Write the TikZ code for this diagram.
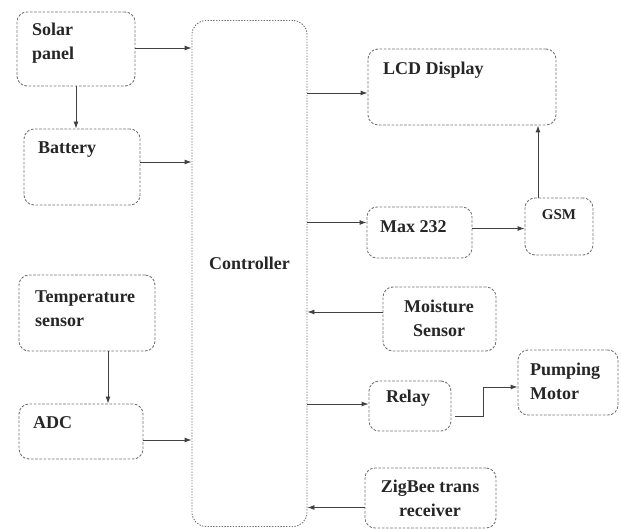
\documentclass[tikz,border=0pt]{standalone}
\usepackage{fontspec}
\setmainfont{LiberationSerif}[Extension=.ttf, UprightFont=*-Regular, BoldFont=*-Bold, ItalicFont=*-Italic, BoldItalicFont=*-BoldItalic]
\usetikzlibrary{arrows.meta,calc}
\begin{document}
\begin{tikzpicture}[x=1pt,y=-1pt,
  box/.style={draw=black!55, line width=0.9pt, dash pattern=on 2.6pt off 1.6pt, rounded corners=10pt, minimum width=#1, inner sep=0pt},
  ctrlbox/.style={draw=black!55, line width=0.9pt, dash pattern=on 1.4pt off 1.4pt, rounded corners=14pt, inner sep=0pt},
  lbl/.style={font=\bfseries\fontsize{18}{24}\selectfont, text=black!85, inner sep=0pt, align=left},
  clbl/.style={font=\bfseries\fontsize{18}{24}\selectfont, text=black!85, inner sep=0pt, align=center},
  arr/.style={draw=black!75, line width=0.9pt, -{Latex[length=7pt,width=5pt]}}
]
\useasboundingbox (0,0) rectangle (621,529);
% boxes
\node[box=118pt, minimum height=74pt] (solar) at (76,49) {};
\node[box=116pt, minimum height=76pt] (battery) at (82,167) {};
\node[ctrlbox, minimum width=115pt, minimum height=506pt] (ctrl) at (249.5,273.5) {};
\node[box=188pt, minimum height=76pt] (lcd) at (462,87) {};
\node[box=105pt, minimum height=51pt] (max) at (419.5,232.5) {};
\node[box=68pt, minimum height=57pt] (gsm) at (559,226.5) {};
\node[box=136pt, minimum height=76pt] (temp) at (87,313) {};
\node[box=124pt, minimum height=55pt] (adc) at (81,431.5) {};
\node[box=113pt, minimum height=64pt] (moist) at (439.5,319) {};
\node[box=82pt, minimum height=50pt] (relay) at (410,406) {};
\node[box=100pt, minimum height=65pt] (pump) at (568,382.5) {};
\node[box=131pt, minimum height=60pt] (zig) at (430.5,498) {};
% texts
\node[lbl, anchor=west] (solart) at (32,43) {Solar\\panel};
\node[lbl, anchor=west] (batteryt) at (38,150) {Battery};
\node[clbl] (ctrlt) at (249.5,263) {Controller};
\node[lbl, anchor=west] (lcdt) at (383,70) {LCD Display};
\node[lbl, anchor=west] (maxt) at (380,227) {Max 232};
\node[clbl, font=\bfseries\fontsize{15}{18}\selectfont] (gsmt) at (559,215) {GSM};
\node[lbl, anchor=west] (tempt) at (35,308.5) {Temperature\\sensor};
\node[lbl, anchor=west] (adct) at (33,423) {ADC};
\node[clbl] (moistt) at (439,318.5) {Moisture\\Sensor};
\node[clbl] (relayt) at (408,398) {Relay};
\node[lbl, anchor=west] (pumpt) at (530,381.5) {Pumping\\Motor};
\node[clbl] (zigt) at (430,498.5) {ZigBee trans\\receiver};
% connectors
\draw[arr] ([yshift=1pt]solar.east) -- ([yshift=1pt]solar.east -| ctrl.west);
\draw[arr] (solar.south) -- (solar.south |- battery.north);
\draw[arr] ([yshift=5pt]battery.east) -- ([yshift=5pt]battery.east -| ctrl.west);
\draw[arr] ([yshift=-6pt]lcd.west -| ctrl.east) -- ([yshift=-6pt]lcd.west);
\draw[arr] ([yshift=10pt]max.west -| ctrl.east) -- ([yshift=10pt]max.west);
\draw[arr] ([yshift=4pt]max.east) -- ([yshift=4pt]max.east -| gsm.west);
\draw[arr] ([xshift=-21pt]gsm.north) -- ([xshift=-21pt]gsm.north |- lcd.south);
\draw[arr] ([xshift=21pt]temp.south) -- ([xshift=21pt]temp.south |- adc.north);
\draw[arr] ([yshift=-8.5pt]adc.east) -- ([yshift=-8.5pt]adc.east -| ctrl.west);
\draw[arr] ([yshift=7pt]moist.west) -- ([yshift=7pt]moist.west -| ctrl.east);
\draw[arr] ([yshift=2pt]relay.west -| ctrl.east) -- ([yshift=2pt]relay.west);
\coordinate (bend) at (483,416);
\draw[arr] ([yshift=-10pt,xshift=4pt]relay.east) -- (bend) |- ([yshift=-4.5pt]pump.west);
\draw[arr] ([yshift=-9.5pt]zig.west) -- ([yshift=-9.5pt]zig.west -| ctrl.east);
\end{tikzpicture}
\end{document}
